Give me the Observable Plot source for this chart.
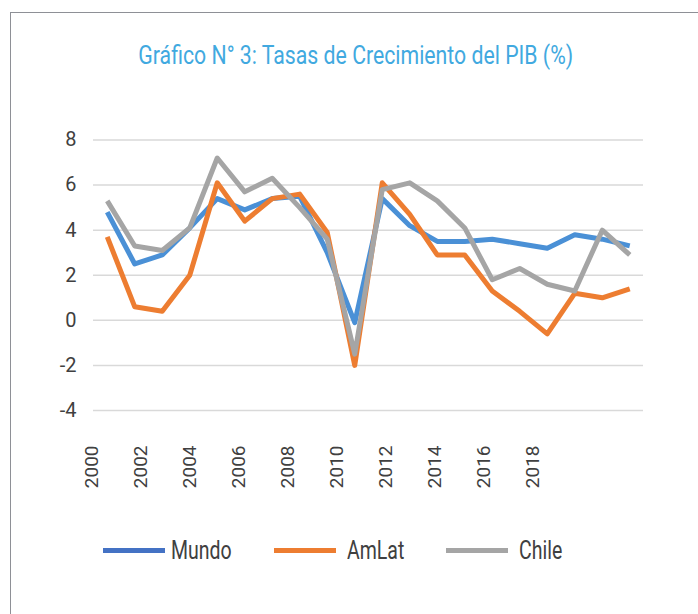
<!DOCTYPE html>
<html>
<head>
<meta charset="utf-8">
<script src="https://cdn.jsdelivr.net/npm/d3@7"></script>
<script src="https://cdn.jsdelivr.net/npm/@observablehq/plot@0.6"></script>
<style>
  body { margin: 0; background: #fff; }
  #wrap { position: relative; width: 698px; height: 614px; overflow: hidden; font-family: Roboto, "Noto Sans", sans-serif; background: #fff; }
  #frame { position: absolute; left: 10px; top: 12px; width: 800px; height: 800px; border-left: 1.5px solid #8e9096; border-top: 1.5px solid #8e9096; }
  .layer { position: absolute; left: 0; top: 0; }
  .cond { display: inline-block; transform: scaleX(0.78); transform-origin: left center; white-space: nowrap; }
  #title { position: absolute; top: 43px; left: 0; width: 712px; text-align: center; font-size: 25px; line-height: 1; color: #41a9e0; }
  #title .cond { transform: scaleX(0.85); transform-origin: center center; }
  .sw { position: absolute; height: 5px; top: 547.5px; width: 62px; }
  .lt { position: absolute; top: 538px; font-size: 25px; line-height: 1; color: #404040; }
</style>
</head>
<body>
<div id="wrap">
  <div id="frame"></div>
  <div id="main" class="layer"></div>
  <div id="xlab" class="layer"></div>
  <div id="title"><span class="cond">Gráfico N° 3: Tasas de Crecimiento del PIB (%)</span></div>
  <div id="legend"></div>
</div>
<script>
// ---- data ----
const years = [2000, 2001, 2002, 2003, 2004, 2005, 2006, 2007, 2008, 2009,
               2010, 2011, 2012, 2013, 2014, 2015, 2016, 2017, 2018, 2019];
const mundo = [4.8, 2.5, 2.9, 4.1, 5.4, 4.9, 5.4, 5.5, 3.0, -0.1,
               5.4, 4.2, 3.5, 3.5, 3.6, 3.4, 3.2, 3.8, 3.6, 3.3];
const amlat = [3.7, 0.6, 0.4, 2.0, 6.1, 4.4, 5.4, 5.6, 3.9, -2.0,
               6.1, 4.7, 2.9, 2.9, 1.3, 0.4, -0.6, 1.2, 1.0, 1.4];
const chile = [5.3, 3.3, 3.1, 4.1, 7.2, 5.7, 6.3, 5.0, 3.6, -1.5,
               5.8, 6.1, 5.3, 4.1, 1.8, 2.3, 1.6, 1.3, 4.0, 2.9];
const seriesNames = ["Mundo", "AmLat", "Chile"];
const lineColors = ["#4a90d6", "#ed7d31", "#a5a5a5"];
const legendColors = ["#4472c4", "#ed7d31", "#a5a5a5"];
const yTicks = [-4, -2, 0, 2, 4, 6, 8];
const xLabels = ["2000", "2002", "2004", "2006", "2008", "2010", "2012", "2014", "2016", "2018"];

const seriesValues = [mundo, amlat, chile];
const table = seriesNames.flatMap((s, k) =>
  years.map((yr, i) => ({ year: yr, series: s, value: seriesValues[k][i] })));

const textColor = "#404040";

const main = Plot.plot({
  width: 698,
  height: 614,
  marginTop: 139.5,
  marginBottom: 204,
  marginLeft: 93,
  marginRight: 55,
  style: { background: "transparent", fontFamily: "Roboto, sans-serif", color: textColor },
  x: { domain: [1999.5, 2019.5], axis: null },
  y: { domain: [-4, 8], axis: null },
  color: { domain: seriesNames, range: lineColors },
  marks: [
    Plot.gridY(yTicks, { stroke: "#d9d9d9", strokeOpacity: 1, strokeWidth: 1.5 }),
    Plot.axisY(yTicks, { tickSize: 0, tickPadding: 17, fontSize: 20, label: null,
      tickFormat: d => String(d), fill: textColor }),
    Plot.line(table, { x: "year", y: "value", z: "series", stroke: "series",
      strokeWidth: 5, strokeLinejoin: "round", strokeLinecap: "butt" })
  ]
});
document.getElementById("main").appendChild(main);

const xl = Plot.plot({
  width: 698,
  height: 614,
  marginTop: 0,
  marginBottom: 614 - 443,
  marginLeft: 88,
  marginRight: 164,
  style: { background: "transparent", fontFamily: "Roboto, sans-serif", color: textColor },
  x: { type: "point", domain: xLabels, padding: 0, axis: null },
  marks: [
    Plot.axisX({ tickSize: 0, tickPadding: 2, tickRotate: -90, fontSize: 19, label: null, fill: textColor })
  ]
});
document.getElementById("xlab").appendChild(xl);

// ---- legend ----
const legendSwatchLeft = [103, 274, 446];
const legendTextLeft = [171, 347, 519];
const lg = document.getElementById("legend");
seriesNames.forEach((s, k) => {
  const sw = document.createElement("div");
  sw.className = "sw";
  sw.style.left = legendSwatchLeft[k] + "px";
  sw.style.background = legendColors[k];
  lg.appendChild(sw);
  const t = document.createElement("div");
  t.className = "lt";
  t.style.left = legendTextLeft[k] + "px";
  t.innerHTML = '<span class="cond">' + s + '</span>';
  lg.appendChild(t);
});
</script>
</body>
</html>
